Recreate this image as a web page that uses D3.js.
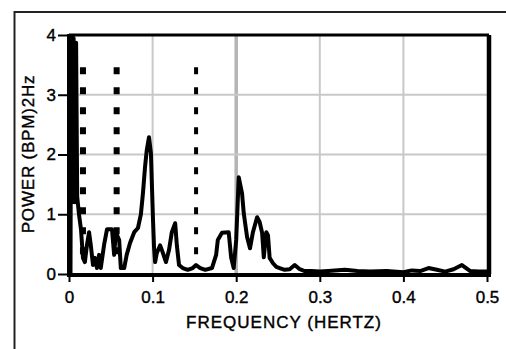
<!DOCTYPE html>
<html>
<head>
<meta charset="utf-8">
<script src="https://cdn.jsdelivr.net/npm/d3@7"></script>
<style>
  body { margin: 0; background: #fff; }
  svg { display: block; font-family: "Liberation Sans", Arial, sans-serif; }
  svg text { fill: #000; stroke: #000; stroke-width: 0.4px; }
  .tick text { font-size: 17px; }
  .tick line { stroke: #000; stroke-width: 2; }
</style>
</head>
<body>
<div id="chart"></div>
<script>
// frequency (Hz) and spectral power
const freq = [0.0018, 0.0025, 0.004, 0.0055, 0.007, 0.0085, 0.0098, 0.012, 0.0144, 0.0167, 0.019, 0.0215,
  0.024, 0.026, 0.0287, 0.031, 0.0335, 0.036, 0.038, 0.042, 0.0455, 0.0514,
  0.054, 0.056, 0.06, 0.062, 0.066, 0.069, 0.073, 0.078, 0.0825, 0.086,
  0.0885, 0.091, 0.093, 0.0957, 0.098, 0.099, 0.1005, 0.1017, 0.103, 0.105,
  0.109, 0.1124, 0.116, 0.1196, 0.123, 0.127, 0.129, 0.1316, 0.136, 0.142,
  0.148, 0.152, 0.157, 0.163, 0.171, 0.176, 0.178, 0.183, 0.191, 0.194,
  0.197, 0.2, 0.203, 0.207, 0.209, 0.213, 0.2165, 0.22, 0.225, 0.228,
  0.231, 0.233, 0.236, 0.238, 0.24, 0.244, 0.248, 0.252, 0.258, 0.264,
  0.27, 0.276, 0.282, 0.29, 0.3, 0.31, 0.33, 0.345, 0.36, 0.38,
  0.4, 0.41, 0.42, 0.43, 0.44, 0.45, 0.46, 0.47, 0.48, 0.49, 0.5];
const power = [0, 4.0, 1.2, 3.95, 1.2, 3.87, 1.3, 0.99, 0.74, 0.27, 0.2, 0.49,
  0.7, 0.49, 0.15, 0.27, 0.1, 0.32, 0.1, 0.49, 0.75, 0.75,
  0.32, 0.7, 0.57, 0.1, 0.1, 0.32, 0.52, 0.7, 0.77, 1.0,
  1.36, 1.8, 2.07, 2.29, 2.02, 1.57, 0.9, 0.45, 0.2, 0.35,
  0.48, 0.35, 0.2, 0.4, 0.7, 0.85, 0.48, 0.15, 0.1, 0.07,
  0.1, 0.15, 0.1, 0.07, 0.1, 0.32, 0.57, 0.69, 0.7, 0.27,
  0.1, 0.57, 1.62, 1.35, 1.02, 0.62, 0.43, 0.7, 0.95, 0.87,
  0.69, 0.28, 0.7, 0.65, 0.27, 0.18, 0.12, 0.1, 0.07, 0.08,
  0.15, 0.08, 0.05, 0.05, 0.04, 0.05, 0.07, 0.05, 0.04, 0.05,
  0.03, 0.06, 0.05, 0.1, 0.07, 0.04, 0.08, 0.15, 0.05, 0.04, 0.04];

// dotted band boundaries
const bandFreqs = [0.0167, 0.057, 0.152];
const bandRange = [0.3, 3.46];

const xTicks = [0, 0.1, 0.2, 0.3, 0.4, 0.5];
const xTickLabels = ["0", "0.1", "0.2", "0.3", "0.4", "0.5"];
const yTicks = [0, 1, 2, 3, 4];

const W = 506, H = 349;
const svg = d3.select("#chart").append("svg")
  .attr("width", W)
  .attr("height", H);

svg.append("rect").attr("width", W).attr("height", H).attr("fill", "#fff");

// outer frame (runs off the right and bottom edges)
svg.append("rect")
  .attr("x", 14.5).attr("y", 12)
  .attr("width", 520).attr("height", 360)
  .attr("fill", "none").attr("stroke", "#222").attr("stroke-width", 2);

const x = d3.scaleLinear().domain([0, 0.5]).range([69, 487]);
const y = d3.scaleLinear().domain([0, 4]).range([274, 35]);

// grid
svg.append("g").selectAll("line")
  .data(xTicks.slice(1, -1))
  .enter().append("line")
    .attr("x1", d => x(d)).attr("x2", d => x(d))
    .attr("y1", y(4)).attr("y2", y(0))
    .attr("stroke", d => d === 0.2 ? "#b4b4b4" : "#c8c8c8")
    .attr("stroke-width", d => d === 0.2 ? 3.5 : 2);
svg.append("g").selectAll("line")
  .data(yTicks.slice(1, -1))
  .enter().append("line")
    .attr("x1", x(0)).attr("x2", x(0.5))
    .attr("y1", d => y(d)).attr("y2", d => y(d))
    .attr("stroke", "#c8c8c8").attr("stroke-width", 2);

// band lines
svg.append("g").selectAll("line")
  .data(bandFreqs)
  .enter().append("line")
    .attr("x1", d => x(d)).attr("x2", d => x(d))
    .attr("y1", y(bandRange[1])).attr("y2", y(bandRange[0]))
    .attr("stroke", "#000")
    .attr("stroke-width", (d, i) => i < 2 ? 6 : 4)
    .attr("stroke-dasharray", "7,13");

// spectrum
svg.append("clipPath").attr("id", "plot-clip")
  .append("rect").attr("x", 60).attr("y", y(4)).attr("width", 440).attr("height", y(0) - y(4) + 4);

const data = freq.map((f, i) => ({f: f, p: power[i]}));
const line = d3.line().x(d => x(d.f)).y(d => y(d.p));
svg.append("path")
  .datum(data)
  .attr("clip-path", "url(#plot-clip)")
  .attr("fill", "none")
  .attr("stroke", "#000")
  .attr("stroke-width", 4)
  .attr("stroke-linejoin", "round")
  .attr("d", line);

// frame of the plot
svg.append("line").attr("x1", x(0)).attr("x2", x(0.5) + 2)
  .attr("y1", y(4)).attr("y2", y(4)).attr("stroke", "#000").attr("stroke-width", 3);
svg.append("line").attr("x1", x(0.5) + 2).attr("x2", x(0.5) + 2)
  .attr("y1", y(4)).attr("y2", y(0)).attr("stroke", "#000").attr("stroke-width", 4.5);

// axes
const yAxis = svg.append("g")
  .attr("transform", "translate(" + x(0) + ",0)")
  .call(d3.axisLeft(y).tickValues(yTicks).tickSize(11).tickPadding(2).tickFormat(d3.format("d")));
yAxis.select(".domain").remove();
svg.append("line").attr("x1", x(0)).attr("x2", x(0))
  .attr("y1", y(4) - 1).attr("y2", y(0) + 2).attr("stroke", "#000").attr("stroke-width", 4);

const xAxis = svg.append("g")
  .attr("transform", "translate(0," + y(0) + ")")
  .call(d3.axisBottom(x).tickValues(xTicks).tickSize(8).tickPadding(9)
    .tickFormat((d, i) => xTickLabels[i]));
xAxis.select(".domain").remove();
svg.append("line").attr("x1", x(0) - 2).attr("x2", x(0.5) + 4)
  .attr("y1", y(0) + 1).attr("y2", y(0) + 1).attr("stroke", "#000").attr("stroke-width", 4);

// titles
svg.append("text")
  .attr("x", 284).attr("y", 328)
  .attr("text-anchor", "middle")
  .style("font-size", "17px").style("letter-spacing", "1px")
  .text("FREQUENCY (HERTZ)");

svg.append("text")
  .attr("transform", "translate(34,154) rotate(-90)")
  .attr("text-anchor", "middle")
  .style("font-size", "17px").style("letter-spacing", "0.8px")
  .text("POWER (BPM)2Hz");
</script>
</body>
</html>
